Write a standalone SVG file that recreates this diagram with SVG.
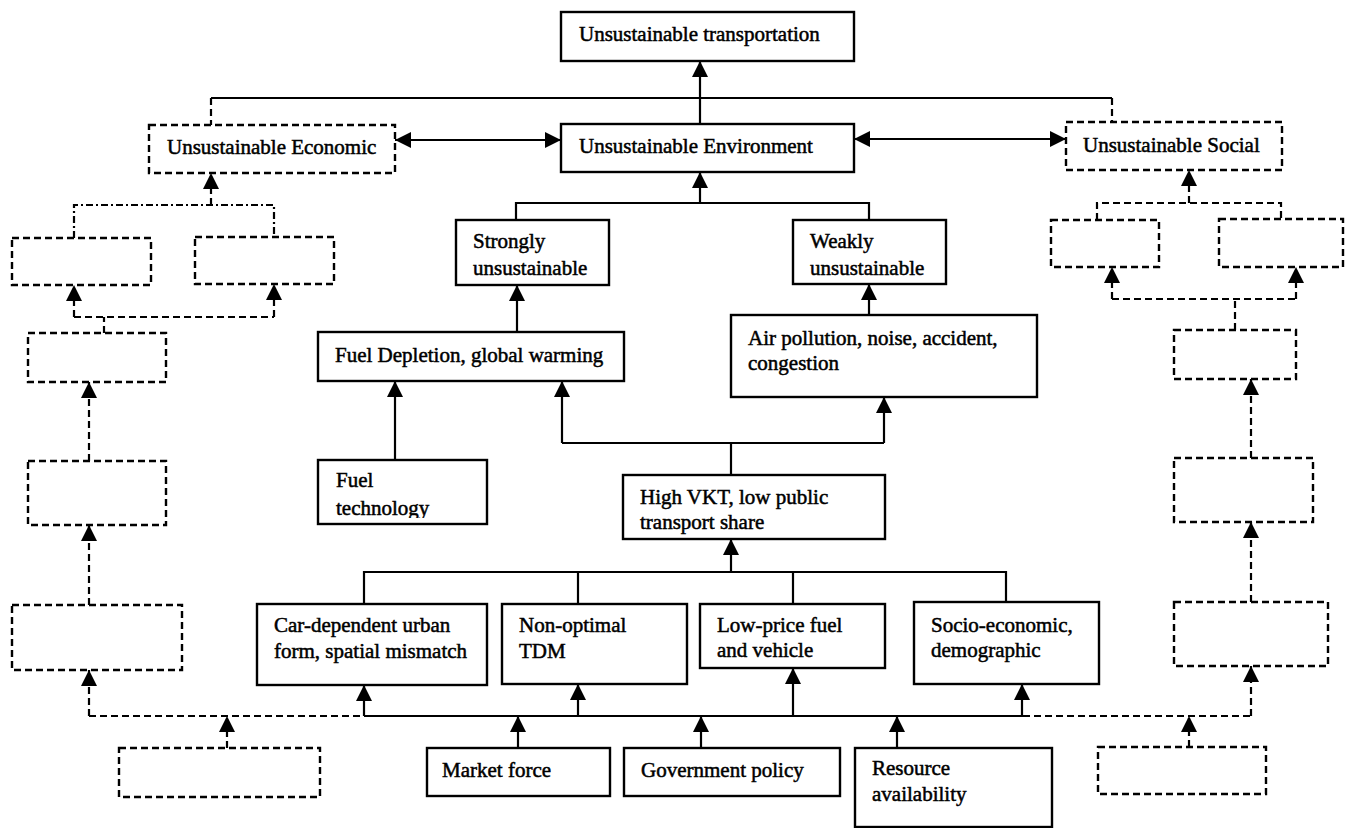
<svg xmlns="http://www.w3.org/2000/svg" width="1353" height="828" viewBox="0 0 1353 828">
  <style>
    .box { fill: #fff; stroke: #000; stroke-width: 2.4; }
    .dbox { fill: #fff; stroke: #000; stroke-width: 2.4; stroke-dasharray: 7 4; }
    .ln { fill: none; stroke: #000; stroke-width: 2.2; }
    .dln { fill: none; stroke: #000; stroke-width: 2.2; stroke-dasharray: 7 4; }
    .ddln { fill: none; stroke: #000; stroke-width: 2.2; stroke-dasharray: 7 3 2 3; }
    .arr { marker-end: url(#ah); }
    .dbl { marker-start: url(#ah2); marker-end: url(#ah); }
    text { font-family: "Liberation Serif", "Times New Roman", serif; font-size: 21px; fill: #000; stroke: #000; stroke-width: 0.5; }
  </style>
  <defs>
    <marker id="ah" markerUnits="userSpaceOnUse" markerWidth="18" markerHeight="18" refX="16" refY="8" orient="auto">
      <path d="M0,0 L16,8 L0,16 z" fill="#000"/>
    </marker>
    <marker id="ah2" markerUnits="userSpaceOnUse" markerWidth="18" markerHeight="18" refX="16" refY="8" orient="auto-start-reverse">
      <path d="M0,0 L16,8 L0,16 z" fill="#000"/>
    </marker>
    <clipPath id="techClip">
      <rect x="318" y="460" width="169" height="58"/>
    </clipPath>
  </defs>
  <rect width="1353" height="828" fill="#fff"/>

  <!-- connectors -->
  <g id="connectors">
    <!-- top level -->
    <path class="ln" d="M211,98 H1112"/>
    <path class="dln" d="M211,98 V125 M1112,98 V122"/>
    <path class="ln arr" d="M700,124 V61"/>
    <path class="ln dbl" d="M395,140 H561"/>
    <path class="ln dbl" d="M854,139 H1066"/>

    <!-- environment branch -->
    <path class="ln" d="M516,220 V203 H869 V220"/>
    <path class="ln arr" d="M700,203 V172"/>
    <path class="ln arr" d="M517,332 V285"/>
    <path class="ln arr" d="M869,315 V284"/>
    <path class="ln arr" d="M395,460 V381"/>
    <path class="ln" d="M731,475 V443 M562,443 H884"/>
    <path class="ln arr" d="M562,443 V381"/>
    <path class="ln arr" d="M884,443 V397"/>

    <!-- factors into VKT -->
    <path class="ln" d="M364,604 V572 H1006 V602 M578,572 V604 M793,572 V604"/>
    <path class="ln arr" d="M731,572 V539"/>

    <!-- drivers bar -->
    <path class="ln" d="M364,716 H1023"/>
    <path class="ln arr" d="M364,716 V685"/>
    <path class="ln arr" d="M578,716 V684"/>
    <path class="ln arr" d="M793,716 V668"/>
    <path class="ln arr" d="M1022,716 V684"/>
    <path class="ln arr" d="M518,748 V716"/>
    <path class="ln arr" d="M701,748 V716"/>
    <path class="ln arr" d="M897,748 V716"/>

    <!-- economic chain -->
    <path class="dln" d="M89,716 H364"/>
    <path class="dln arr" d="M89,716 V670"/>
    <path class="dln arr" d="M227,748 V716"/>
    <path class="dln arr" d="M89,605 V525"/>
    <path class="dln arr" d="M89,461 V382"/>
    <path class="dln" d="M104,333 V317 M74,317 H274"/>
    <path class="dln arr" d="M74,317 V285"/>
    <path class="dln arr" d="M274,317 V284"/>
    <path class="ddln" d="M74,238 V205 H274 V237"/>
    <path class="dln arr" d="M211,205 V173"/>

    <!-- social chain -->
    <path class="dln" d="M1023,716 H1251"/>
    <path class="dln arr" d="M1251,716 V666"/>
    <path class="dln arr" d="M1189,747 V716"/>
    <path class="dln arr" d="M1251,602 V522"/>
    <path class="dln arr" d="M1251,458 V379"/>
    <path class="dln" d="M1235,330 V299 M1112,299 H1296"/>
    <path class="dln arr" d="M1112,299 V267"/>
    <path class="dln arr" d="M1296,299 V267"/>
    <path class="dln" d="M1097,220 V203 H1281 V219"/>
    <path class="dln arr" d="M1189,203 V170"/>
  </g>

  <!-- solid nodes -->
  <g id="n-transport"><rect class="box" x="561" y="12" width="293" height="49"/><text x="579" y="41">Unsustainable transportation</text></g>
  <g id="n-environment"><rect class="box" x="561" y="124" width="293" height="48"/><text x="579" y="153">Unsustainable Environment</text></g>
  <g id="n-strong"><rect class="box" x="456" y="220" width="153" height="65"/><text x="473" y="248">Strongly</text><text x="473" y="275">unsustainable</text></g>
  <g id="n-weak"><rect class="box" x="793" y="220" width="153" height="64"/><text x="810" y="248">Weakly</text><text x="810" y="275">unsustainable</text></g>
  <g id="n-fuel-depletion"><rect class="box" x="318" y="332" width="306" height="49"/><text x="335" y="362">Fuel Depletion, global warming</text></g>
  <g id="n-air"><rect class="box" x="731" y="315" width="306" height="82"/><text x="748" y="345">Air pollution, noise, accident,</text><text x="748" y="370">congestion</text></g>
  <g id="n-fuel-tech"><rect class="box" x="318" y="460" width="169" height="64"/><text x="336" y="487">Fuel</text><text x="336" y="515" clip-path="url(#techClip)">technology</text></g>
  <g id="n-vkt"><rect class="box" x="623" y="475" width="262" height="64"/><text x="640" y="504">High VKT, low public</text><text x="640" y="529">transport share</text></g>
  <g id="n-car"><rect class="box" x="257" y="604" width="230" height="81"/><text x="274" y="632">Car-dependent urban</text><text x="274" y="658">form, spatial mismatch</text></g>
  <g id="n-tdm"><rect class="box" x="502" y="604" width="185" height="80"/><text x="519" y="632">Non-optimal</text><text x="519" y="658">TDM</text></g>
  <g id="n-price"><rect class="box" x="700" y="604" width="185" height="64"/><text x="717" y="632">Low-price fuel</text><text x="717" y="657">and vehicle</text></g>
  <g id="n-socio"><rect class="box" x="914" y="602" width="185" height="82"/><text x="931" y="632">Socio-economic,</text><text x="931" y="657">demographic</text></g>
  <g id="n-market"><rect class="box" x="427" y="748" width="183" height="48"/><text x="442" y="777">Market force</text></g>
  <g id="n-government"><rect class="box" x="624" y="748" width="216" height="48"/><text x="641" y="777">Government policy</text></g>
  <g id="n-resource"><rect class="box" x="855" y="748" width="197" height="79"/><text x="872" y="775">Resource</text><text x="872" y="801">availability</text></g>

  <!-- dashed nodes -->
  <g id="n-economic"><rect class="dbox" x="149" y="125" width="246" height="48"/><text x="167" y="154">Unsustainable Economic</text></g>
  <g id="n-social"><rect class="dbox" x="1066" y="122" width="216" height="48"/><text x="1083" y="152">Unsustainable Social</text></g>
  <g id="n-econ-1"><rect class="dbox" x="12" y="238" width="139" height="47"/></g>
  <g id="n-econ-2"><rect class="dbox" x="195" y="237" width="139" height="47"/></g>
  <g id="n-econ-3"><rect class="dbox" x="28" y="333" width="138" height="49"/></g>
  <g id="n-econ-4"><rect class="dbox" x="28" y="461" width="138" height="64"/></g>
  <g id="n-econ-5"><rect class="dbox" x="12" y="605" width="170" height="65"/></g>
  <g id="n-econ-6"><rect class="dbox" x="119" y="748" width="201" height="49"/></g>
  <g id="n-soc-1"><rect class="dbox" x="1051" y="220" width="108" height="47"/></g>
  <g id="n-soc-2"><rect class="dbox" x="1219" y="219" width="124" height="48"/></g>
  <g id="n-soc-3"><rect class="dbox" x="1174" y="330" width="122" height="49"/></g>
  <g id="n-soc-4"><rect class="dbox" x="1174" y="458" width="139" height="64"/></g>
  <g id="n-soc-5"><rect class="dbox" x="1174" y="602" width="154" height="64"/></g>
  <g id="n-soc-6"><rect class="dbox" x="1098" y="747" width="168" height="47"/></g>
</svg>
